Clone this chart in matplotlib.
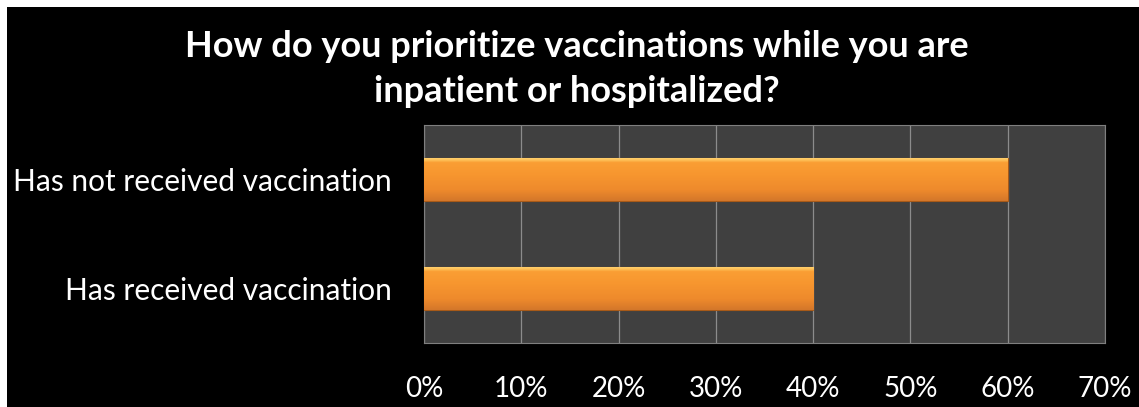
import matplotlib.pyplot as plt
import matplotlib.patches as mpatches
from matplotlib.colors import LinearSegmentedColormap
from matplotlib.ticker import FuncFormatter
import numpy as np

# chart data
categories = ["Has received vaccination", "Has not received vaccination"]
shares = [0.40, 0.60]
x_ticks = [0.0, 0.1, 0.2, 0.3, 0.4, 0.5, 0.6, 0.7]
title = "How do you prioritize vaccinations while you are\ninpatient or hospitalized?"

plt.rcParams['font.family'] = ['Lato', 'DejaVu Sans']

fig = plt.figure(figsize=(11.39, 4.07), dpi=100, facecolor='white')
# black slide background with a thin white margin top / left
fig.patches.append(mpatches.Rectangle((7 / 1139, 0), 1, 1 - 7 / 407, transform=fig.transFigure,
                                      facecolor='black', edgecolor='none', zorder=-5))

ax = fig.add_axes([424 / 1139, 1 - 343 / 407, 681 / 1139, 218 / 407])
ax.set_facecolor('#404040')

y = np.arange(len(categories))
bars = ax.barh(y, shares, height=0.4, color='#F7962F', edgecolor='#A85A18', linewidth=0.8, zorder=3)

# glossy vertical gradient on each bar: darker bottom, light strip on top
cmap = LinearSegmentedColormap.from_list(
    'bar', [(0, '#D4772A'), (0.25, '#EE8A2C'), (0.6, '#F7962F'), (0.88, '#FA9E34'),
            (0.94, '#FFC35A'), (1, '#FFD474')])
grad = np.linspace(0, 1, 100).reshape(-1, 1)
for b in bars:
    x0, y0 = b.get_x(), b.get_y()
    im = ax.imshow(grad, extent=[x0, x0 + b.get_width(), y0, y0 + b.get_height()],
                   origin='lower', aspect='auto', cmap=cmap, zorder=3.5)
    im.set_clip_path(b)

ax.set_xlim(0, 0.7)
ax.set_ylim(-0.5, 1.5)
ax.set_xticks(x_ticks)
ax.xaxis.set_major_formatter(FuncFormatter(lambda v, p: f"{v * 100:.0f}%"))
ax.set_yticks(y)
ax.set_yticklabels(categories)
ax.tick_params(axis='both', colors='white', length=0)
ax.tick_params(axis='x', labelsize=20, pad=24)
ax.tick_params(axis='y', labelsize=21.5, pad=23)
ax.grid(axis='x', color='#8C8C8C', linewidth=0.9, zorder=1)
ax.set_axisbelow(True)
for s in ax.spines.values():
    s.set_color('#7F7F7F')
    s.set_linewidth(0.8)

fig.text(577 / 1139, 1 - 69 / 407, title, color='white', fontsize=26, fontweight='bold',
         ha='center', va='center', linespacing=1.45)

fig.savefig('out.png', dpi=100, facecolor=fig.get_facecolor())
